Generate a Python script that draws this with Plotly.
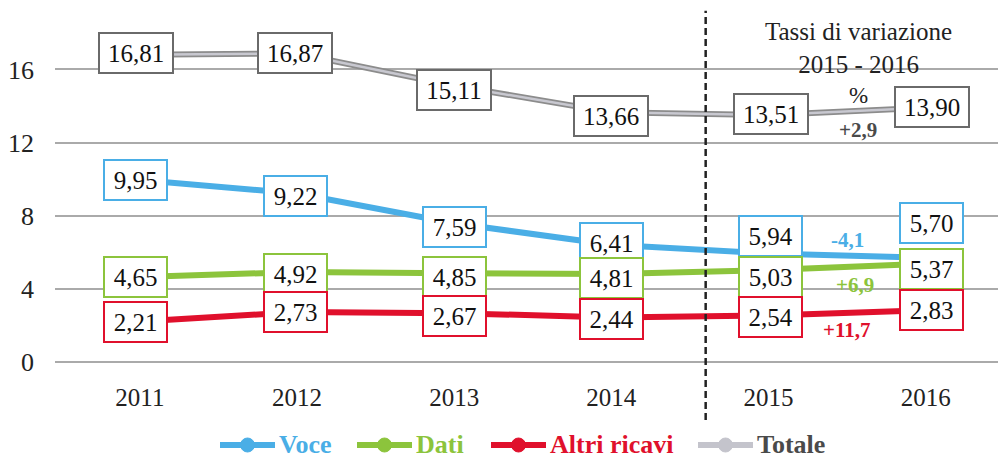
import plotly.graph_objects as go

# Revenue components (billions of euro), 2011-2016
years = ["2011", "2012", "2013", "2014", "2015", "2016"]
voce = [9.95, 9.22, 7.59, 6.41, 5.94, 5.70]
dati = [4.65, 4.92, 4.85, 4.81, 5.03, 5.37]
altri = [2.21, 2.73, 2.67, 2.44, 2.54, 2.83]
totale = [16.81, 16.87, 15.11, 13.66, 13.51, 13.90]
series_names = ["Voce", "Dati", "Altri ricavi", "Totale"]

# Percentage change 2015 -> 2016
var_voce = "-4,1"
var_dati = "+6,9"
var_altri = "+11,7"
var_totale = "+2,9"

y_ticks = [0, 4, 8, 12, 16]

SERIF = "'Liberation Serif', 'Times New Roman', serif"
C_VOCE = "#4aaee6"
C_DATI = "#8cc43c"
C_ALTRI = "#e0102c"
C_TOT_OUT = "#8c8c8c"
C_TOT_IN = "#c8c8d0"
C_TOT_TXT = "#555555"

W, H = 998, 458
M_L, M_R, M_T, M_B = 55, 0, 0, 96
PLOT_W = W - M_L - M_R
PLOT_H = H - M_T - M_B

xs = list(range(len(years)))

fig = go.Figure()


def series(vals, color, width=6):
    fig.add_trace(go.Scatter(
        x=xs, y=vals, mode="lines", showlegend=False,
        line=dict(color=color, width=width), hoverinfo="skip",
    ))


series(voce, C_VOCE)
series(dati, C_DATI)
series(altri, C_ALTRI)
# Totale: dark outer stroke with a lighter core
series(totale, C_TOT_OUT, width=6)
series(totale, C_TOT_IN, width=2.5)


def fmt(v):
    return f"{v:.2f}".replace(".", ",")


# per-year horizontal nudge of the value boxes
box_dx = [-4, -2, 0, 0, 2, 6]
# per-series vertical nudge (px, up positive)
dy_voce = [0, -3, -4, 2, 17, 35]
dy_dati = [0, -2, -4, -4, -7, -5]
dy_altri = [0, 0, -3, -2, -1, 0]
dy_tot = [2, 1, -4, -4, 1, 1]

for vals, color, dys, w in [
    (totale, "#6a6a6a", dy_tot, 66),
    (voce, C_VOCE, dy_voce, 55),
    (dati, C_DATI, dy_dati, 55),
    (altri, C_ALTRI, dy_altri, 55),
]:
    for i, v in enumerate(vals):
        fig.add_annotation(
            x=xs[i], y=v, text=fmt(v), showarrow=False,
            xshift=box_dx[i], yshift=dys[i],
            font=dict(family=SERIF, size=25, color="#111111"),
            bgcolor="white", bordercolor=color, borderwidth=2,
            borderpad=3, width=w, height=32,
        )

# Growth-rate notes between 2015 and 2016
mid = 4.57
fig.add_annotation(x=mid, y=0.955, xref="x", yref="paper", yanchor="top",
                   text="Tassi di variazione<br>2015 - 2016", showarrow=False,
                   font=dict(family=SERIF, size=25, color="#222222"))
fig.add_annotation(x=mid, y=14.6, text="%", showarrow=False,
                   font=dict(family=SERIF, size=23, color="#222222"))
notes = [
    (var_totale, 12.7, "#4a4a4a", 4.57),
    (var_voce, 6.7, C_VOCE, 4.5),
    (var_dati, 4.2, C_DATI, 4.55),
    (var_altri, 1.75, C_ALTRI, 4.5),
]
for txt, yv, col, xv in notes:
    fig.add_annotation(x=xv, y=yv, text=f"<b>{txt}</b>", showarrow=False,
                       font=dict(family=SERIF, size=21, color=col))

# dashed separator between historic years and the compared pair
fig.add_shape(type="line", xref="x", yref="paper", x0=3.6, x1=3.6, y0=-0.16, y1=0.97,
              line=dict(color="#222222", width=2.5, dash="7px,4px"))


# Legend row under the axis: line + dot icon, bold coloured label
def px_x(px):
    return (px - M_L) / PLOT_W


def px_y(py):
    return (PLOT_H + M_T - py) / PLOT_H


leg_y = px_y(445)
legend_items = [
    (series_names[0], C_VOCE, C_VOCE, 220),
    (series_names[1], C_DATI, C_DATI, 357),
    (series_names[2], C_ALTRI, C_ALTRI, 491),
    (series_names[3], "#c4c4cc", "#4a4a4a", 698),
]
ICON = 55
for label, lcol, tcol, x0 in legend_items:
    fig.add_shape(type="line", xref="paper", yref="paper",
                  x0=px_x(x0), x1=px_x(x0 + ICON), y0=leg_y, y1=leg_y,
                  line=dict(color=lcol, width=6))
    fig.add_shape(type="circle", xref="paper", yref="paper",
                  xsizemode="pixel", ysizemode="pixel",
                  xanchor=px_x(x0 + ICON / 2), yanchor=leg_y,
                  x0=-7, x1=7, y0=-7, y1=7,
                  fillcolor=lcol, line=dict(color=lcol, width=1))
    fig.add_annotation(x=px_x(x0 + ICON + 2), y=leg_y, xref="paper", yref="paper",
                       xanchor="left", yanchor="middle", showarrow=False,
                       text=f"<b>{label}</b>",
                       font=dict(family=SERIF, size=26, color=tcol))

fig.update_layout(
    width=W, height=H,
    margin=dict(l=M_L, r=M_R, t=M_T, b=M_B, autoexpand=False),
    paper_bgcolor="white", plot_bgcolor="white",
    font=dict(family=SERIF, color="#222222"),
    xaxis=dict(
        range=[-0.54, 5.46], tickmode="array", tickvals=xs, ticktext=years,
        showgrid=False, zeroline=False, showline=False,
        tickfont=dict(family=SERIF, size=25, color="#222222"),
        ticklabelstandoff=18,
    ),
    yaxis=dict(
        range=[0, 19.8], tickmode="array", tickvals=y_ticks,
        showgrid=True, gridcolor="#aaaaaa", gridwidth=2,
        zeroline=True, zerolinecolor="#aaaaaa", zerolinewidth=2,
        tickfont=dict(family=SERIF, size=26, color="#222222"),
        ticklabelstandoff=20,
    ),
    showlegend=False,
)

fig.write_html("out.html")
